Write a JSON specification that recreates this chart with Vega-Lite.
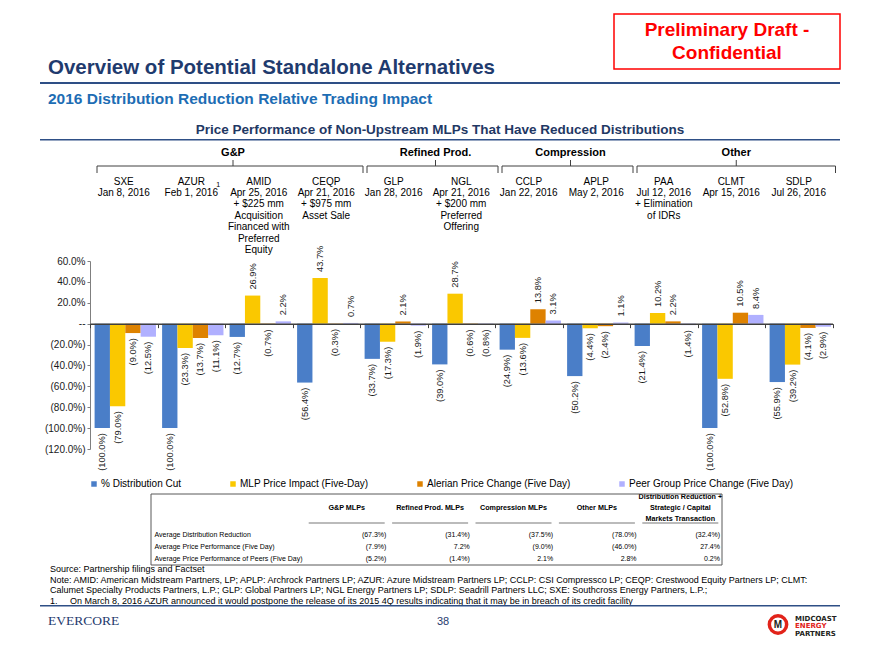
{
  "$schema": "https://vega.github.io/schema/vega-lite/v6.json",
  "background": "white",
  "padding": {"left": 40, "top": 13, "right": 0, "bottom": 0},
  "bounds": "flush",
  "spacing": 0,
  "resolve": {"scale": {"color": "independent"}},
  "config": {"view": {"stroke": null}, "font": "Liberation Sans"},
  "datasets": {
    "bars": [
      {"mlp": "SXE", "series": "% Distribution Cut", "value": -1.0},
      {"mlp": "SXE", "series": "MLP Price Impact (Five-Day)", "value": -0.79},
      {"mlp": "SXE", "series": "Alerian Price Change (Five Day)", "value": -0.09},
      {"mlp": "SXE", "series": "Peer Group Price Change (Five Day)", "value": -0.125},
      {"mlp": "AZUR", "series": "% Distribution Cut", "value": -1.0},
      {"mlp": "AZUR", "series": "MLP Price Impact (Five-Day)", "value": -0.233},
      {"mlp": "AZUR", "series": "Alerian Price Change (Five Day)", "value": -0.137},
      {"mlp": "AZUR", "series": "Peer Group Price Change (Five Day)", "value": -0.111},
      {"mlp": "AMID", "series": "% Distribution Cut", "value": -0.127},
      {"mlp": "AMID", "series": "MLP Price Impact (Five-Day)", "value": 0.269},
      {"mlp": "AMID", "series": "Alerian Price Change (Five Day)", "value": -0.007},
      {"mlp": "AMID", "series": "Peer Group Price Change (Five Day)", "value": 0.022},
      {"mlp": "CEQP", "series": "% Distribution Cut", "value": -0.564},
      {"mlp": "CEQP", "series": "MLP Price Impact (Five-Day)", "value": 0.437},
      {"mlp": "CEQP", "series": "Alerian Price Change (Five Day)", "value": -0.003},
      {"mlp": "CEQP", "series": "Peer Group Price Change (Five Day)", "value": 0.007},
      {"mlp": "GLP", "series": "% Distribution Cut", "value": -0.337},
      {"mlp": "GLP", "series": "MLP Price Impact (Five-Day)", "value": -0.173},
      {"mlp": "GLP", "series": "Alerian Price Change (Five Day)", "value": 0.021},
      {"mlp": "GLP", "series": "Peer Group Price Change (Five Day)", "value": -0.019},
      {"mlp": "NGL", "series": "% Distribution Cut", "value": -0.39},
      {"mlp": "NGL", "series": "MLP Price Impact (Five-Day)", "value": 0.287},
      {"mlp": "NGL", "series": "Alerian Price Change (Five Day)", "value": -0.006},
      {"mlp": "NGL", "series": "Peer Group Price Change (Five Day)", "value": -0.008},
      {"mlp": "CCLP", "series": "% Distribution Cut", "value": -0.249},
      {"mlp": "CCLP", "series": "MLP Price Impact (Five-Day)", "value": -0.136},
      {"mlp": "CCLP", "series": "Alerian Price Change (Five Day)", "value": 0.138},
      {"mlp": "CCLP", "series": "Peer Group Price Change (Five Day)", "value": 0.031},
      {"mlp": "APLP", "series": "% Distribution Cut", "value": -0.502},
      {"mlp": "APLP", "series": "MLP Price Impact (Five-Day)", "value": -0.044},
      {"mlp": "APLP", "series": "Alerian Price Change (Five Day)", "value": -0.024},
      {"mlp": "APLP", "series": "Peer Group Price Change (Five Day)", "value": 0.011},
      {"mlp": "PAA", "series": "% Distribution Cut", "value": -0.214},
      {"mlp": "PAA", "series": "MLP Price Impact (Five-Day)", "value": 0.102},
      {"mlp": "PAA", "series": "Alerian Price Change (Five Day)", "value": 0.022},
      {"mlp": "PAA", "series": "Peer Group Price Change (Five Day)", "value": -0.014},
      {"mlp": "CLMT", "series": "% Distribution Cut", "value": -1.0},
      {"mlp": "CLMT", "series": "MLP Price Impact (Five-Day)", "value": -0.528},
      {"mlp": "CLMT", "series": "Alerian Price Change (Five Day)", "value": 0.105},
      {"mlp": "CLMT", "series": "Peer Group Price Change (Five Day)", "value": 0.084},
      {"mlp": "SDLP", "series": "% Distribution Cut", "value": -0.559},
      {"mlp": "SDLP", "series": "MLP Price Impact (Five-Day)", "value": -0.392},
      {"mlp": "SDLP", "series": "Alerian Price Change (Five Day)", "value": -0.041},
      {"mlp": "SDLP", "series": "Peer Group Price Change (Five Day)", "value": -0.029}
    ],
    "companies": [
      {"mlp": "SXE", "caption": "SXE\nJan 8, 2016"},
      {"mlp": "AZUR", "caption": "AZUR\nFeb 1, 2016", "note": "1"},
      {"mlp": "AMID", "caption": "AMID\nApr 25, 2016\n+ $225 mm\nAcquisition\nFinanced with\nPreferred\nEquity"},
      {"mlp": "CEQP", "caption": "CEQP\nApr 21, 2016\n+ $975 mm\nAsset Sale"},
      {"mlp": "GLP", "caption": "GLP\nJan 28, 2016"},
      {"mlp": "NGL", "caption": "NGL\nApr 21, 2016\n+ $200 mm\nPreferred\nOffering"},
      {"mlp": "CCLP", "caption": "CCLP\nJan 22, 2016"},
      {"mlp": "APLP", "caption": "APLP\nMay 2, 2016"},
      {"mlp": "PAA", "caption": "PAA\nJul 12, 2016\n+ Elimination\nof IDRs"},
      {"mlp": "CLMT", "caption": "CLMT\nApr 15, 2016"},
      {"mlp": "SDLP", "caption": "SDLP\nJul 26, 2016"}
    ],
    "sectors": [
      {"sector": "G&P", "first": "SXE", "last": "CEQP", "center": "AMID", "members": 4},
      {"sector": "Refined Prod.", "first": "GLP", "last": "NGL", "center": "NGL", "members": 2},
      {"sector": "Compression", "first": "CCLP", "last": "APLP", "center": "APLP", "members": 2},
      {"sector": "Other", "first": "PAA", "last": "SDLP", "center": "CLMT", "members": 3}
    ],
    "averages": [
      {"group": "G&P MLPs", "metric": "Average Distribution Reduction", "value": -0.673},
      {"group": "G&P MLPs", "metric": "Average Price Performance (Five Day)", "value": -0.079},
      {"group": "G&P MLPs", "metric": "Average Price Performance of Peers (Five Day)", "value": -0.052},
      {"group": "Refined Prod. MLPs", "metric": "Average Distribution Reduction", "value": -0.314},
      {"group": "Refined Prod. MLPs", "metric": "Average Price Performance (Five Day)", "value": 0.072},
      {"group": "Refined Prod. MLPs", "metric": "Average Price Performance of Peers (Five Day)", "value": -0.014},
      {"group": "Compression MLPs", "metric": "Average Distribution Reduction", "value": -0.375},
      {"group": "Compression MLPs", "metric": "Average Price Performance (Five Day)", "value": -0.09},
      {"group": "Compression MLPs", "metric": "Average Price Performance of Peers (Five Day)", "value": 0.021},
      {"group": "Other MLPs", "metric": "Average Distribution Reduction", "value": -0.78},
      {"group": "Other MLPs", "metric": "Average Price Performance (Five Day)", "value": -0.46},
      {"group": "Other MLPs", "metric": "Average Price Performance of Peers (Five Day)", "value": 0.028},
      {"group": "Distribution Reduction + Strategic / Capital Markets Transaction", "metric": "Average Distribution Reduction", "value": -0.324},
      {"group": "Distribution Reduction + Strategic / Capital Markets Transaction", "metric": "Average Price Performance (Five Day)", "value": 0.274},
      {"group": "Distribution Reduction + Strategic / Capital Markets Transaction", "metric": "Average Price Performance of Peers (Five Day)", "value": 0.002}
    ]
  },
  "vconcat": [
    {
      "width": 800, "height": 68,
      "layer": [
        {
          "data": {"values": [{"stamp": "Preliminary Draft -\nConfidential"}]},
          "mark": {"type": "bar", "filled": false, "stroke": "#FF0000", "strokeWidth": 1.5},
          "encoding": {
            "x": {"field": "stamp", "type": "nominal", "scale": {"range": [574, 800], "paddingInner": 0, "paddingOuter": 0}, "axis": null},
            "y": {"field": "stamp", "type": "nominal", "scale": {"range": [0, 55], "paddingInner": 0, "paddingOuter": 0}, "axis": null}
          }
        },
        {
          "data": {"values": [{"stamp": "Preliminary Draft -\nConfidential"}]},
          "mark": {"type": "text", "lineBreak": "\n", "fontSize": 19, "fontWeight": "bold", "color": "#FF0000", "lineHeight": 23, "dy": -11.5},
          "encoding": {
            "x": {"field": "stamp", "type": "nominal", "scale": {"range": [574, 800], "paddingInner": 0, "paddingOuter": 0}, "axis": null},
            "y": {"field": "stamp", "type": "nominal", "scale": {"range": [0, 55], "paddingInner": 0, "paddingOuter": 0}, "axis": null},
            "text": {"field": "stamp"}
          }
        },
        {
          "data": {"values": [{"heading": "Overview of Potential Standalone Alternatives"}]},
          "mark": {"type": "text", "align": "left", "baseline": "alphabetic", "dx": 8, "dy": -8, "fontSize": 20.5, "fontWeight": "bold", "color": "#1F3B6E"},
          "encoding": {"x": {"value": 0}, "y": {"value": "height"}, "text": {"field": "heading"}}
        }
      ]
    },
    {"width": 800, "height": 2, "view": {"fill": "#2E4F86", "stroke": null}, "data": {"values": []}, "mark": "point"},
    {
      "width": 800, "height": 55,
      "layer": [
        {
          "data": {"values": [{"heading": "2016 Distribution Reduction Relative Trading Impact"}]},
          "mark": {"type": "text", "align": "left", "baseline": "alphabetic", "dx": 8, "dy": 19.5, "fontSize": 15.5, "fontWeight": "bold", "color": "#1D6DB4"},
          "encoding": {"x": {"value": 0}, "y": {"value": 0}, "text": {"field": "heading"}}
        },
        {
          "data": {"values": [{"heading": "Price Performance of Non-Upstream MLPs That Have Reduced Distributions"}]},
          "mark": {"type": "text", "align": "center", "baseline": "alphabetic", "dy": -5, "fontSize": 13.5, "fontWeight": "bold", "color": "#1F3864"},
          "encoding": {"y": {"value": "height"}, "text": {"field": "heading"}}
        }
      ]
    },
    {"width": 800, "height": 1.5, "view": {"fill": "#2E4F86", "stroke": null}, "data": {"values": []}, "mark": "point"},
    {
      "width": 800, "height": 25,
      "data": {"name": "sectors"},
      "layer": [
        {
          "transform": [{"filter": "datum.members % 2 == 0"}],
          "mark": {"type": "text", "fontWeight": "bold", "fontSize": 11, "baseline": "middle", "dy": -1, "dx": 8, "color": "#000000"},
          "encoding": {"x": {"field": "center", "type": "nominal", "bandPosition": 0, "scale": {"domain": ["SXE", "AZUR", "AMID", "CEQP", "GLP", "NGL", "CCLP", "APLP", "PAA", "CLMT", "SDLP"], "range": [50, 792.5], "paddingInner": 0, "paddingOuter": 0}, "axis": null}, "text": {"field": "sector"}}
        },
        {
          "transform": [{"filter": "datum.members % 2 == 1"}],
          "mark": {"type": "text", "fontWeight": "bold", "fontSize": 11, "baseline": "middle", "dy": -1, "dx": 5, "color": "#000000"},
          "encoding": {"x": {"field": "center", "type": "nominal", "bandPosition": 0.5, "axis": null}, "text": {"field": "sector"}}
        },
        {
          "mark": {"type": "rule", "color": "#404040", "xOffset": 7, "x2Offset": 3},
          "encoding": {"x": {"field": "first", "type": "nominal", "bandPosition": 0, "axis": null}, "x2": {"field": "last", "bandPosition": 1}, "y": {"value": "height"}}
        },
        {
          "mark": {"type": "rule", "color": "#404040", "xOffset": 7, "y2Offset": 7},
          "encoding": {"x": {"field": "first", "type": "nominal", "bandPosition": 0, "axis": null}, "y": {"value": "height"}, "y2": {"value": "height"}}
        },
        {
          "mark": {"type": "rule", "color": "#404040", "xOffset": 3, "y2Offset": 7},
          "encoding": {"x": {"field": "last", "type": "nominal", "bandPosition": 1, "axis": null}, "y": {"value": "height"}, "y2": {"value": "height"}}
        },
        {
          "transform": [{"filter": "datum.members % 2 == 0"}],
          "mark": {"type": "rule", "color": "#404040", "xOffset": 8, "y2Offset": -6},
          "encoding": {"x": {"field": "center", "type": "nominal", "bandPosition": 0, "axis": null}, "y": {"value": "height"}, "y2": {"value": "height"}}
        },
        {
          "transform": [{"filter": "datum.members % 2 == 1"}],
          "mark": {"type": "rule", "color": "#404040", "xOffset": 5, "y2Offset": -6},
          "encoding": {"x": {"field": "center", "type": "nominal", "bandPosition": 0.5, "axis": null}, "y": {"value": "height"}, "y2": {"value": "height"}}
        }
      ]
    },
    {
      "width": 800, "height": 95,
      "data": {"name": "companies"},
      "encoding": {
        "x": {"field": "mlp", "type": "nominal", "sort": null, "scale": {"domain": ["SXE", "AZUR", "AMID", "CEQP", "GLP", "NGL", "CCLP", "APLP", "PAA", "CLMT", "SDLP"], "range": [50, 792.5], "paddingInner": 0, "paddingOuter": 0}, "axis": null}
      },
      "layer": [
        {"mark": {"type": "text", "lineBreak": "\n", "baseline": "top", "lineHeight": 11.4, "fontSize": 10, "dy": 10.5, "color": "#000000"}, "encoding": {"y": {"value": 0}, "text": {"field": "caption"}}},
        {"transform": [{"filter": "isValid(datum.note)"}], "mark": {"type": "text", "fontSize": 7, "dx": 27, "dy": 18.8, "baseline": "middle", "color": "#000000"}, "encoding": {"y": {"value": 0}, "text": {"field": "note"}}}
      ]
    },
    {
      "width": 800, "height": 188,
      "data": {"name": "bars"},
      "encoding": {
        "x": {"field": "mlp", "type": "nominal", "sort": null, "scale": {"domain": ["SXE", "AZUR", "AMID", "CEQP", "GLP", "NGL", "CCLP", "APLP", "PAA", "CLMT", "SDLP"], "range": [50, 792.5], "paddingInner": 0, "paddingOuter": 0}, "axis": {"orient": "bottom", "offset": -125.33, "labels": false, "title": null, "domainColor": "#3F3F3F", "domainWidth": 1.5, "tickColor": "#3F3F3F", "tickSize": 4, "tickBand": "extent", "zindex": 1}},
        "xOffset": {"field": "series", "type": "nominal", "sort": null, "scale": {"domain": ["% Distribution Cut", "MLP Price Impact (Five-Day)", "Alerian Price Change (Five Day)", "Peer Group Price Change (Five Day)"], "paddingInner": 0, "paddingOuter": 0.2, "align": 0.75}},
        "y": {"field": "value", "type": "quantitative", "scale": {"domain": [-1.2, 0.6], "nice": false, "zero": false}, "axis": {"offset": -50, "values": [-1.2, -1, -0.8, -0.6, -0.4, -0.2, 0, 0.2, 0.4, 0.6], "format": "(.1%", "labelExpr": "datum.value == 0 ? '--' : datum.label", "grid": false, "title": null, "domainColor": "#7F7F7F", "tickColor": "#7F7F7F", "tickSize": 3, "labelFontSize": 10, "labelColor": "#1A1A1A", "labelPadding": 2, "labelOverlap": false}}
      },
      "layer": [
        {
          "mark": {"type": "bar"},
          "encoding": {
            "color": {"field": "series", "type": "nominal", "scale": {"domain": ["% Distribution Cut", "MLP Price Impact (Five-Day)", "Alerian Price Change (Five Day)", "Peer Group Price Change (Five Day)"], "range": ["#4A7EC8", "#FAC800", "#DE8200", "#B0B0FF"]}, "legend": {"orient": "none", "legendX": 49, "legendY": 218, "direction": "horizontal", "title": null, "symbolType": "square", "symbolSize": 30, "symbolStrokeWidth": 0, "labelFontSize": 10, "labelColor": "#000000", "columnPadding": 46, "padding": 0, "labelOffset": 2, "labelLimit": 300}}
          }
        },
        {
          "transform": [{"filter": "datum.value > 0"}],
          "mark": {"type": "text", "angle": 270, "align": "left", "baseline": "middle", "yOffset": -6, "fontSize": 9.3, "color": "#1A1A1A"},
          "encoding": {"text": {"field": "value", "type": "quantitative", "format": "(.1%"}}
        },
        {
          "transform": [{"filter": "datum.value < 0"}],
          "mark": {"type": "text", "angle": 270, "align": "right", "baseline": "middle", "yOffset": 5, "fontSize": 9.3, "color": "#1A1A1A"},
          "encoding": {"text": {"field": "value", "type": "quantitative", "format": "(.1%"}}
        }
      ]
    },
    {"width": 800, "height": 44.5, "data": {"values": []}, "mark": "point"},
    {
      "width": 800, "height": 71,
      "resolve": {"scale": {"x": "independent", "y": "independent"}},
      "layer": [
        {
          "data": {"values": [{"table": "averages"}]},
          "mark": {"type": "bar", "filled": false, "stroke": "#595959", "strokeWidth": 1},
          "encoding": {
            "x": {"field": "table", "type": "nominal", "scale": {"range": [111, 682], "paddingInner": 0, "paddingOuter": 0}, "axis": null},
            "y": {"field": "table", "type": "nominal", "scale": {"range": [0, 71], "paddingInner": 0, "paddingOuter": 0}, "axis": null}
          }
        },
        {
          "data": {"name": "averages"},
          "encoding": {
            "y": {"field": "metric", "type": "nominal", "sort": null, "scale": {"domain": ["Average Distribution Reduction", "Average Price Performance (Five Day)", "Average Price Performance of Peers (Five Day)"], "range": [35, 71], "paddingInner": 0, "paddingOuter": 0}, "axis": {"orient": "left", "offset": -111, "domain": false, "ticks": false, "tickSize": 0, "labelAlign": "left", "labelPadding": -3, "title": null, "labelFontSize": 7, "labelColor": "#000000", "labelLimit": 300}}
          },
          "layer": [
            {
              "mark": {"type": "text", "align": "right", "dx": -2, "fontSize": 7, "color": "#000000"},
              "encoding": {
                "x": {"field": "group", "type": "nominal", "sort": null, "bandPosition": 1, "scale": {"domain": ["G&P MLPs", "Refined Prod. MLPs", "Compression MLPs", "Other MLPs", "Distribution Reduction + Strategic / Capital Markets Transaction"], "range": [265, 682], "paddingInner": 0, "paddingOuter": 0}, "axis": {"orient": "top", "offset": -6, "domain": false, "ticks": false, "tickSize": 0, "labelPadding": 0, "labelAngle": 0, "labelBaseline": "bottom", "labelFontSize": 7.2, "labelFontWeight": "bold", "labelLineHeight": 11, "labelColor": "#000000", "title": null, "labelLimit": 300, "labelExpr": "datum.value == 'Distribution Reduction + Strategic / Capital Markets Transaction' ? ['Distribution Reduction +', 'Strategic / Capital', 'Markets Transaction'] : ['', '', datum.value]"}},
                "text": {"field": "value", "type": "quantitative", "format": "(.1%"}
              }
            },
            {
              "transform": [{"filter": "datum.metric == 'Average Distribution Reduction'"}],
              "mark": {"type": "tick", "orient": "horizontal", "size": 76, "thickness": 1, "color": "#404040", "yOffset": -6},
              "encoding": {
                "x": {"field": "group", "type": "nominal", "sort": null},
                "y": {"field": "metric", "type": "nominal", "sort": null, "bandPosition": 0}
              }
            }
          ]
        }
      ]
    },
    {
      "width": 800, "height": 40,
      "data": {"values": [{"note": "Source: Partnership filings and Factset\nNote: AMID: American Midstream Partners, LP; APLP: Archrock Partners LP; AZUR: Azure Midstream Partners LP; CCLP: CSI Compressco LP; CEQP: Crestwood Equity Partners LP; CLMT:\nCalumet Specialty Products Partners, L.P.; GLP: Global Partners LP; NGL Energy Partners LP; SDLP: Seadrill Partners LLC; SXE: Southcross Energy Partners, L.P.;\n1.\u00a0\u00a0\u00a0\u00a0\u00a0On March 8, 2016 AZUR announced it would postpone the release of its 2015 4Q results indicating that it may be in breach of its credit facility"}]},
      "mark": {"type": "text", "lineBreak": "\n", "align": "left", "baseline": "top", "dx": 10, "fontSize": 9, "lineHeight": 10.7, "color": "#000000"},
      "encoding": {"x": {"value": 0}, "y": {"value": 0}, "text": {"field": "note"}}
    },
    {"width": 800, "height": 1.5, "view": {"fill": "#2E4F86", "stroke": null}, "data": {"values": []}, "mark": "point"},
    {
      "width": 800, "height": 30,
      "layer": [
        {
          "data": {"values": [{"brand": "EVERCORE"}]},
          "mark": {"type": "text", "align": "left", "dx": 8, "dy": -1.5, "font": "Liberation Serif", "fontSize": 13.5, "color": "#1F3B6E"},
          "encoding": {"x": {"value": 0}, "text": {"field": "brand"}}
        },
        {
          "data": {"values": [{"page": "38"}]},
          "mark": {"type": "text", "dx": 3, "fontSize": 11, "color": "#1F3B6E"},
          "encoding": {"text": {"field": "page"}}
        },
        {
          "data": {"values": [{"initial": "M"}]},
          "mark": {"type": "point", "shape": "circle", "size": 300, "filled": false, "stroke": "#E2231A", "strokeWidth": 3.5, "opacity": 1, "xOffset": -62, "yOffset": 2.5},
          "encoding": {"x": {"value": "width"}}
        },
        {
          "data": {"values": [{"initial": "M"}]},
          "mark": {"type": "text", "fontWeight": "bold", "fontSize": 10, "color": "#231F20", "dx": -62, "dy": 2.5},
          "encoding": {"x": {"value": "width"}, "text": {"field": "initial"}}
        },
        {
          "data": {"values": [{"word": "MIDCOAST"}, {"word": "ENERGY"}, {"word": "PARTNERS"}]},
          "mark": {"type": "text", "align": "left", "baseline": "middle", "fontSize": 7, "fontWeight": "bold", "font": "DejaVu Sans", "dx": -45, "dy": 4},
          "encoding": {
            "x": {"value": "width"},
            "y": {"field": "word", "type": "nominal", "sort": null, "scale": {"domain": ["MIDCOAST", "ENERGY", "PARTNERS"], "padding": 1.31}, "axis": null},
            "text": {"field": "word"},
            "color": {"field": "word", "type": "nominal", "scale": {"domain": ["MIDCOAST", "ENERGY", "PARTNERS"], "range": ["#231F20", "#E2231A", "#231F20"]}, "legend": null}
          }
        }
      ]
    }
  ]
}
